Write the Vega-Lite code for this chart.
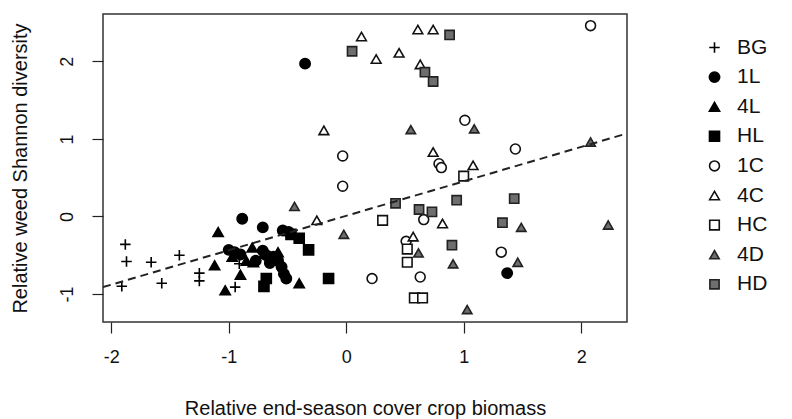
{
  "$schema": "https://vega.github.io/schema/vega-lite/v6.json",
  "autosize": "none",
  "width": 524,
  "height": 308,
  "padding": {"left": 103, "top": 14, "right": 165, "bottom": 97},
  "background": "white",
  "config": {
    "font": "Liberation Sans",
    "view": {"stroke": "#333333", "strokeWidth": 1.5},
    "axis": {"grid": false, "domain": false, "tickColor": "#222222", "tickWidth": 1.2, "tickSize": 11,
      "labelFont": "Liberation Sans", "titleFont": "Liberation Sans", "labelColor": "#111111", "titleColor": "#111111",
      "labelFontSize": 18, "titleFontSize": 20, "titleFontWeight": "normal"}
  },
  "datasets": {
    "pts": [
      {"x": -1.88, "y": -0.36, "g": "BG"}, {"x": -1.87, "y": -0.58, "g": "BG"}, {"x": -1.66, "y": -0.59, "g": "BG"},
      {"x": -1.42, "y": -0.50, "g": "BG"}, {"x": -1.91, "y": -0.90, "g": "BG"}, {"x": -1.57, "y": -0.86, "g": "BG"},
      {"x": -1.25, "y": -0.73, "g": "BG"}, {"x": -1.25, "y": -0.83, "g": "BG"}, {"x": -0.945, "y": -0.91, "g": "BG"},
      {"x": -0.91, "y": -0.61, "g": "BG"},
      {"x": -0.35, "y": 1.97, "g": "1L"}, {"x": 1.37, "y": -0.73, "g": "1L"}, {"x": -0.885, "y": -0.03, "g": "1L"},
      {"x": -0.71, "y": -0.14, "g": "1L"}, {"x": -0.54, "y": -0.18, "g": "1L"}, {"x": -0.49, "y": -0.20, "g": "1L"},
      {"x": -1.0, "y": -0.43, "g": "1L"}, {"x": -0.95, "y": -0.46, "g": "1L"}, {"x": -0.90, "y": -0.49, "g": "1L"},
      {"x": -0.71, "y": -0.44, "g": "1L"}, {"x": -0.68, "y": -0.50, "g": "1L"}, {"x": -0.62, "y": -0.52, "g": "1L"},
      {"x": -0.58, "y": -0.57, "g": "1L"}, {"x": -0.55, "y": -0.65, "g": "1L"}, {"x": -0.53, "y": -0.74, "g": "1L"},
      {"x": -0.51, "y": -0.80, "g": "1L"}, {"x": -0.77, "y": -0.57, "g": "1L"}, {"x": -0.65, "y": -0.60, "g": "1L"},
      {"x": -1.09, "y": -0.20, "g": "4L"}, {"x": -1.12, "y": -0.63, "g": "4L"}, {"x": -0.90, "y": -0.75, "g": "4L"},
      {"x": -1.03, "y": -0.95, "g": "4L"}, {"x": -0.80, "y": -0.40, "g": "4L"}, {"x": -0.79, "y": -0.59, "g": "4L"},
      {"x": -0.85, "y": -0.57, "g": "4L"}, {"x": -0.40, "y": -0.86, "g": "4L"}, {"x": -0.58, "y": -0.46, "g": "4L"},
      {"x": -0.97, "y": -0.52, "g": "4L"}, {"x": -0.70, "y": -0.48, "g": "4L"},
      {"x": -0.40, "y": -0.28, "g": "HL"}, {"x": -0.32, "y": -0.43, "g": "HL"}, {"x": -0.15, "y": -0.80, "g": "HL"},
      {"x": -0.68, "y": -0.80, "g": "HL"}, {"x": -0.70, "y": -0.90, "g": "HL"}, {"x": -0.47, "y": -0.23, "g": "HL"},
      {"x": 2.08, "y": 2.46, "g": "1C"}, {"x": 1.01, "y": 1.24, "g": "1C"}, {"x": 1.44, "y": 0.87, "g": "1C"},
      {"x": -0.03, "y": 0.78, "g": "1C"}, {"x": 0.79, "y": 0.68, "g": "1C"}, {"x": 0.81, "y": 0.63, "g": "1C"},
      {"x": -0.03, "y": 0.39, "g": "1C"}, {"x": 0.66, "y": -0.04, "g": "1C"}, {"x": 0.51, "y": -0.32, "g": "1C"},
      {"x": 1.32, "y": -0.46, "g": "1C"}, {"x": 0.22, "y": -0.80, "g": "1C"}, {"x": 0.63, "y": -0.78, "g": "1C"},
      {"x": -0.19, "y": 1.11, "g": "4C"}, {"x": 0.13, "y": 2.32, "g": "4C"}, {"x": 0.255, "y": 2.03, "g": "4C"},
      {"x": 0.45, "y": 2.11, "g": "4C"}, {"x": 0.61, "y": 2.41, "g": "4C"}, {"x": 0.74, "y": 2.41, "g": "4C"},
      {"x": 0.63, "y": 1.96, "g": "4C"}, {"x": 0.74, "y": 0.83, "g": "4C"}, {"x": 1.08, "y": 0.66, "g": "4C"},
      {"x": -0.25, "y": -0.05, "g": "4C"}, {"x": 0.82, "y": -0.09, "g": "4C"}, {"x": 0.57, "y": -0.26, "g": "4C"},
      {"x": 1.0, "y": 0.52, "g": "HC"}, {"x": 0.31, "y": -0.05, "g": "HC"}, {"x": 0.52, "y": -0.42, "g": "HC"},
      {"x": 0.52, "y": -0.59, "g": "HC"}, {"x": 0.58, "y": -1.05, "g": "HC"}, {"x": 0.65, "y": -1.05, "g": "HC"},
      {"x": 0.55, "y": 1.12, "g": "4D"}, {"x": 1.09, "y": 1.13, "g": "4D"}, {"x": 2.08, "y": 0.96, "g": "4D"},
      {"x": -0.44, "y": 0.13, "g": "4D"}, {"x": -0.02, "y": -0.23, "g": "4D"}, {"x": 1.49, "y": -0.14, "g": "4D"},
      {"x": 2.23, "y": -0.11, "g": "4D"}, {"x": 0.615, "y": -0.47, "g": "4D"}, {"x": 0.91, "y": -0.61, "g": "4D"},
      {"x": 1.46, "y": -0.59, "g": "4D"}, {"x": 1.03, "y": -1.2, "g": "4D"},
      {"x": 0.05, "y": 2.13, "g": "HD"}, {"x": 0.88, "y": 2.34, "g": "HD"}, {"x": 0.67, "y": 1.86, "g": "HD"},
      {"x": 0.74, "y": 1.74, "g": "HD"}, {"x": 0.42, "y": 0.17, "g": "HD"}, {"x": 0.94, "y": 0.21, "g": "HD"},
      {"x": 1.43, "y": 0.23, "g": "HD"}, {"x": 0.62, "y": 0.09, "g": "HD"}, {"x": 0.73, "y": 0.06, "g": "HD"},
      {"x": 1.33, "y": -0.08, "g": "HD"}, {"x": 0.9, "y": -0.37, "g": "HD"}
    ],
    "fit": [
      {"x": -2.07, "y": -0.91},
      {"x": 2.39, "y": 1.07}
    ]
  },
  "layer": [
    {
      "data": {"name": "pts"},
      "mark": {"type": "point", "filled": true, "opacity": 1, "strokeWidth": 1.6},
      "encoding": {
        "x": {"field": "x", "type": "quantitative",
          "scale": {"domain": [-2.07, 2.39], "nice": false, "zero": false},
          "axis": {"values": [-2, -1, 0, 1, 2], "labelPadding": 15,
            "labelExpr": "datum.value < 0 ? '-' + abs(datum.value) : '' + datum.value",
            "title": "Relative end-season cover crop biomass", "titleY": 86, "titleBaseline": "middle"}},
        "y": {"field": "y", "type": "quantitative",
          "scale": {"domain": [-1.36, 2.61], "nice": false, "zero": false},
          "axis": {"values": [-1, 0, 1, 2], "labelAngle": -90, "labelAlign": "center", "labelBaseline": "middle", "labelPadding": 25,
            "labelExpr": "datum.value < 0 ? '-' + abs(datum.value) : '' + datum.value",
            "title": "Relative weed Shannon diversity", "titleX": -83, "titleY": 154, "titleAngle": -90, "titleBaseline": "middle", "titleAlign": "center"}},
        "shape": {"field": "g", "type": "nominal",
          "scale": {"domain": ["BG", "1L", "4L", "HL", "1C", "4C", "HC", "4D", "HD"],
            "range": ["M-1,0H1M0,-1V1", "circle", "triangle-up", "square", "circle", "triangle-up", "square", "triangle-up", "square"]},
          "legend": {"title": null, "orient": "none", "legendX": 601, "legendY": 23, "padding": 0,
            "labelFontSize": 21, "labelFont": "Liberation Sans", "labelColor": "#111111", "labelOffset": 12,
            "rowPadding": 7.6, "symbolStrokeWidth": 1.6}},
        "fill": {"field": "g", "type": "nominal",
          "scale": {"domain": ["BG", "1L", "4L", "HL", "1C", "4C", "HC", "4D", "HD"],
            "range": ["black", "black", "black", "black", "white", "white", "white", "#6e6e6e", "#6e6e6e"]}},
        "stroke": {"field": "g", "type": "nominal",
          "scale": {"domain": ["BG", "1L", "4L", "HL", "1C", "4C", "HC", "4D", "HD"],
            "range": ["black", "black", "black", "black", "#111111", "#111111", "#111111", "#222222", "#222222"]}},
        "size": {"field": "g", "type": "nominal",
          "scale": {"domain": ["BG", "1L", "4L", "HL", "1C", "4C", "HC", "4D", "HD"],
            "range": [110, 85, 120, 50, 45, 110, 45, 120, 50]}}
      }
    },
    {
      "data": {"name": "fit"},
      "mark": {"type": "line", "strokeDash": [8, 5], "strokeWidth": 2, "color": "#222222", "clip": true},
      "encoding": {
        "x": {"field": "x", "type": "quantitative"},
        "y": {"field": "y", "type": "quantitative"}
      }
    }
  ]
}
